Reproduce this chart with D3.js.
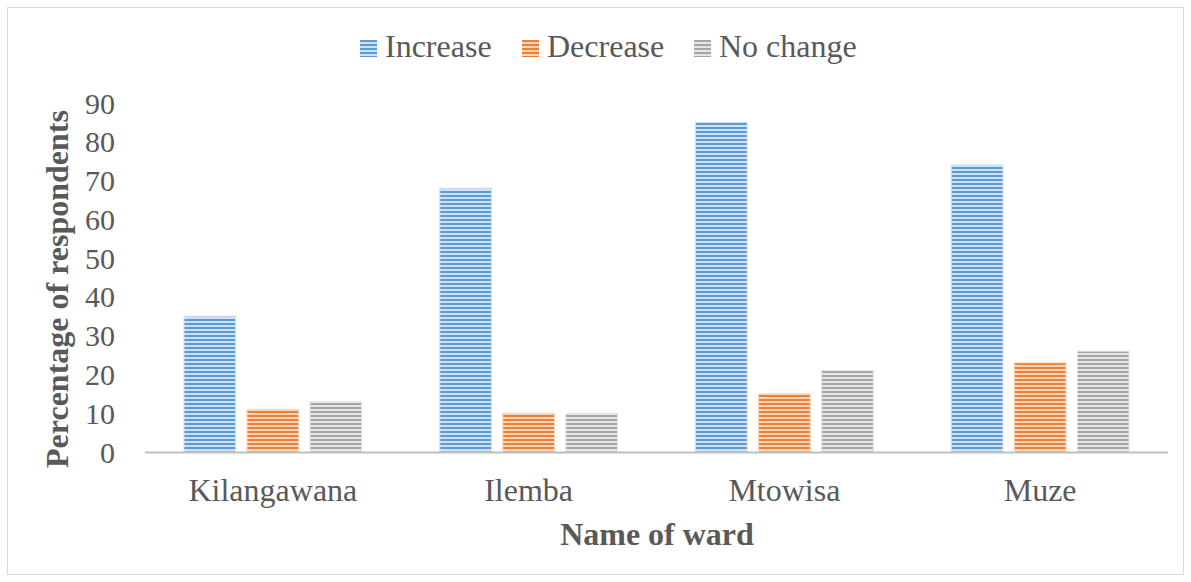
<!DOCTYPE html>
<meta charset="utf-8">
<script src="https://d3js.org/d3.v7.min.js"></script>
<style>
  body { margin: 0; background: #fff; }
  svg text { font-family: "Liberation Serif", "Times New Roman", serif; fill: #595959; }
</style>
<div id="chart"></div>
<script>
// data
var wards = ["Kilangawana", "Ilemba", "Mtowisa", "Muze"];
var seriesNames = ["Increase", "Decrease", "No change"];
var increase = [35, 68, 85, 74];
var decrease = [11, 10, 15, 23];
var noChange = [13, 10, 21, 26];
var yTicks = [0, 10, 20, 30, 40, 50, 60, 70, 80, 90];

var seriesValues = [increase, decrease, noChange];
var colors = ["#5b9bd5", "#ed7d31", "#a5a5a5"];
var lightColors = ["#cfe1f3", "#f9d5bd", "#e6e6e6"];

var W = 1191, H = 582;
var margin = {top: 103, right: 23, bottom: 130, left: 145};
var width = W - margin.left - margin.right,
    height = H - margin.top - margin.bottom;

var svg = d3.select("#chart").append("svg")
  .attr("width", W).attr("height", H);

// stripe patterns
var defs = svg.append("defs");
colors.forEach(function(c, i) {
  var p = defs.append("pattern")
    .attr("id", "stripe" + i)
    .attr("patternUnits", "userSpaceOnUse")
    .attr("width", 4).attr("height", 4);
  p.append("rect").attr("width", 4).attr("height", 4).attr("fill", lightColors[i]);
  p.append("rect").attr("width", 4).attr("height", 2).attr("y", 0).attr("fill", c);
});

// chart border
svg.append("rect")
  .attr("x", 7.5).attr("y", 7.5)
  .attr("width", W - 15).attr("height", H - 15)
  .attr("fill", "none").attr("stroke", "#d9d9d9");

var g = svg.append("g")
  .attr("transform", "translate(" + margin.left + "," + margin.top + ")");

var x0 = d3.scaleBand().domain(wards).range([0, width]).paddingInner(0).paddingOuter(0);
var x1 = d3.scaleBand().domain(seriesNames).range([39, x0.bandwidth() - 39]).paddingInner(0.18);
var y = d3.scaleLinear().domain([0, 90]).range([height, 0]);

// y tick labels
g.selectAll(".ytick").data(yTicks).enter().append("text")
  .attr("x", -30)
  .attr("y", function(d) { return y(d); })
  .attr("dy", "0.35em")
  .attr("text-anchor", "end")
  .style("font-size", "30px")
  .text(function(d) { return d; });

// bars
var groups = g.selectAll(".ward").data(wards).enter().append("g")
  .attr("transform", function(d) { return "translate(" + x0(d) + ",0)"; });

groups.selectAll("rect").data(function(d, wi) {
    return seriesNames.map(function(s, si) { return {s: s, si: si, v: seriesValues[si][wi]}; });
  }).enter().append("rect")
  .attr("x", function(d) { return x1(d.s); })
  .attr("y", function(d) { return y(d.v); })
  .attr("width", x1.bandwidth())
  .attr("height", function(d) { return height - y(d.v); })
  .attr("fill", function(d) { return "url(#stripe" + d.si + ")"; })
  .attr("stroke", function(d) { return lightColors[d.si]; })
  .attr("stroke-width", 1);

// x axis line
g.append("line")
  .attr("x1", 0).attr("x2", width)
  .attr("y1", height + 0.5).attr("y2", height + 0.5)
  .attr("stroke", "#bfbfbf").attr("stroke-width", 2);

// category labels
g.selectAll(".xlab").data(wards).enter().append("text")
  .attr("x", function(d) { return x0(d) + x0.bandwidth() / 2; })
  .attr("y", 501 - margin.top)
  .attr("text-anchor", "middle")
  .style("font-size", "32px")
  .text(function(d) { return d; });

// axis titles
svg.append("text")
  .attr("x", 657).attr("y", 545)
  .attr("text-anchor", "middle")
  .style("font-size", "32px").style("font-weight", "bold")
  .text("Name of ward");

svg.append("text")
  .attr("transform", "translate(68,289) rotate(-90)")
  .attr("text-anchor", "middle")
  .style("font-size", "32px").style("font-weight", "bold")
  .text("Percentage of respondents");

// legend
var legendX = [360, 522, 694];
var legend = svg.selectAll(".legend").data(seriesNames).enter().append("g")
  .attr("transform", function(d, i) { return "translate(" + legendX[i] + ",40)"; });
legend.append("rect")
  .attr("width", 17).attr("height", 17)
  .attr("fill", function(d, i) { return "url(#stripe" + i + ")"; });
legend.append("text")
  .attr("x", 25).attr("y", 17)
  .style("font-size", "32px")
  .text(function(d) { return d; });
</script>
